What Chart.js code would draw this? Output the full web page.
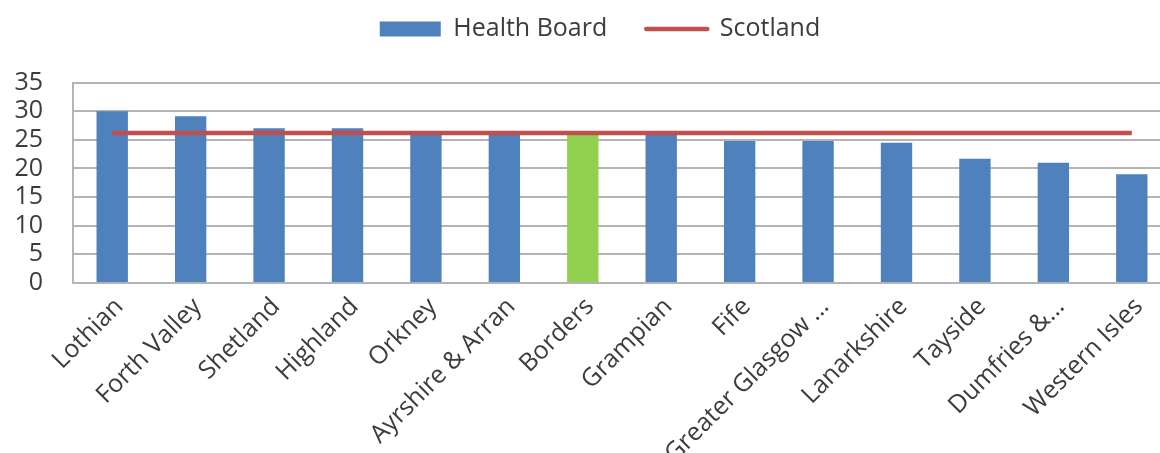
<!DOCTYPE html>
<html>
<head>
<meta charset="utf-8">
<script src="https://cdn.jsdelivr.net/npm/chart.js@4/dist/chart.umd.min.js"></script>
<style>
  html, body { margin: 0; padding: 0; background: #ffffff; overflow: hidden; }
  #wrap { position: relative; width: 1200px; height: 453px; }
</style>
</head>
<body>
<div id="wrap"><canvas id="chart"></canvas></div>
<script>
// Health boards, ordered from highest to lowest
const boards = [
  'Lothian', 'Forth Valley', 'Shetland', 'Highland', 'Orkney',
  'Ayrshire & Arran', 'Borders', 'Grampian', 'Fife', 'Greater Glasgow …',
  'Lanarkshire', 'Tayside', 'Dumfries &…', 'Western Isles'
];

// Value for each health board
const boardValues = [30.0, 29.1, 27.0, 27.0, 25.9, 25.9, 25.9, 25.9, 24.8, 24.8, 24.5, 21.7, 21.0, 19.0];

// Scotland-wide reference value, one entry per board
const scotlandValues = [26.2, 26.2, 26.2, 26.2, 26.2, 26.2, 26.2, 26.2, 26.2, 26.2, 26.2, 26.2, 26.2, 26.2];

// Value axis ticks
const yTicks = [0, 5, 10, 15, 20, 25, 30, 35];

// Series names
const seriesNames = ['Health Board', 'Scotland'];

const BLUE = '#4F81BD';
const GREEN = '#92D050';
const RED = '#C0504D';
const GRID = '#b4b4b4';
const TEXT = '#3c3c3c';
const highlighted = 'Borders';

Chart.defaults.font.family = "'Open Sans', sans-serif";
Chart.defaults.color = TEXT;

// Fixes the legend band height so the plot area starts where intended
const legendBand = {
  id: 'legendBand',
  beforeLayout(chart) {
    const lg = chart.legend;
    if (lg && !lg._bandWrapped) {
      const fit = lg.fit.bind(lg);
      lg.fit = function () { fit(); this.height = 105; };
      lg._bandWrapped = true;
    }
  }
};

new Chart(document.getElementById('chart'), {
  data: {
    labels: boards,
    datasets: [
      {
        type: 'line',
        label: seriesNames[1],
        data: scotlandValues,
        borderColor: RED,
        borderWidth: 4.5,
        pointRadius: 0,
        pointHoverRadius: 0,
        fill: false,
        order: 0
      },
      {
        type: 'bar',
        label: seriesNames[0],
        data: boardValues,
        backgroundColor: boards.map(b => b === highlighted ? GREEN : BLUE),
        borderWidth: 0,
        barPercentage: 0.4,
        categoryPercentage: 1.0,
        order: 1
      }
    ]
  },
  options: {
    responsive: true,
    maintainAspectRatio: false,
    animation: false,
    devicePixelRatio: 1,
    layout: { padding: { top: -22.5, left: 0, right: 0, bottom: 0 } },
    plugins: {
      tooltip: { enabled: false },
      legend: {
        position: 'top',
        align: 'center',
        labels: {
          usePointStyle: true,
          pointStyleWidth: 61,
          boxHeight: 15,
          padding: 39,
          color: TEXT,
          font: { size: 25 },
          generateLabels: () => [
            { text: seriesNames[0], fillStyle: BLUE, strokeStyle: BLUE, lineWidth: 0, pointStyle: 'rect', datasetIndex: 1, hidden: false, fontColor: TEXT },
            { text: seriesNames[1], fillStyle: RED, strokeStyle: RED, lineWidth: 4.5, lineCap: 'round', pointStyle: 'line', datasetIndex: 0, hidden: false, fontColor: TEXT }
          ]
        }
      }
    },
    scales: {
      x: {
        offset: true,
        grid: { display: false },
        border: { display: true, color: GRID, width: 2 },
        ticks: {
          autoSkip: false,
          minRotation: 45,
          maxRotation: 45,
          padding: 1,
          labelOffset: 7,
          color: TEXT,
          font: { size: 25 }
        },
        afterFit(scale) { scale.height = 170; }
      },
      y: {
        position: 'left',
        min: 0,
        max: 35,
        afterBuildTicks(scale) { scale.ticks = yTicks.map(v => ({ value: v })); },
        grid: { color: GRID, lineWidth: 2, drawTicks: false },
        border: { display: true, color: GRID, width: 2 },
        ticks: {
          autoSkip: false,
          padding: 30,
          color: TEXT,
          font: { size: 25 }
        },
        afterFit(scale) { scale.width = 73; }
      },
      yRight: {
        position: 'right',
        display: true,
        grid: { display: false },
        border: { display: false },
        ticks: { display: false },
        afterFit(scale) { scale.width = 29; }
      }
    }
  },
  plugins: [legendBand]
});
</script>
</body>
</html>
